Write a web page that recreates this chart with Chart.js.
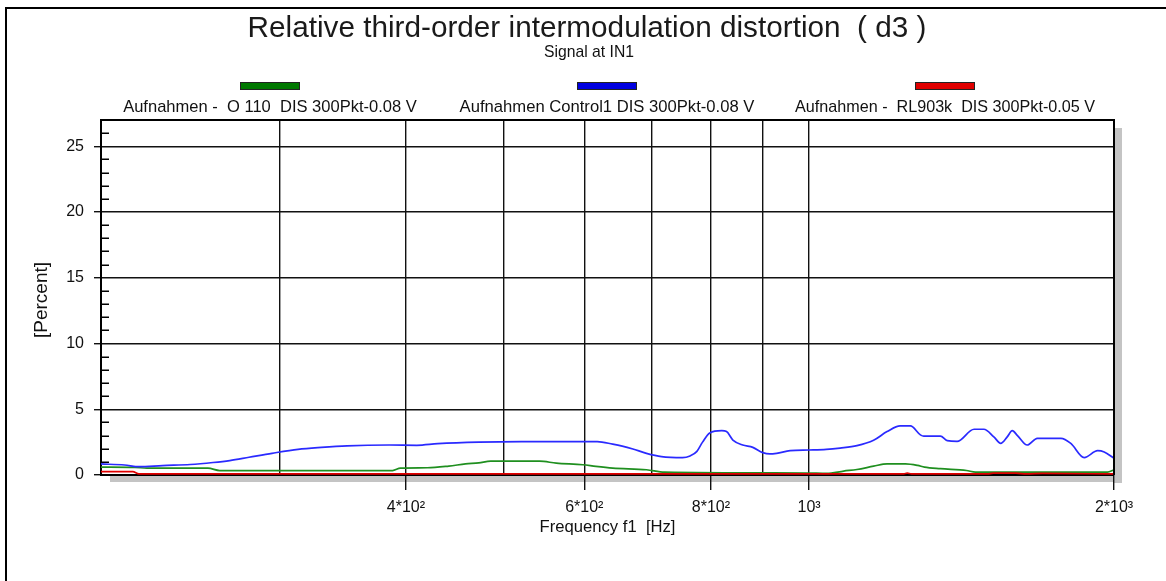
<!DOCTYPE html>
<html>
<head>
<meta charset="utf-8">
<title>Relative third-order intermodulation distortion</title>
<script src="https://cdn.jsdelivr.net/npm/chart.js@4.4.0/dist/chart.umd.min.js"></script>
<style>
  html, body { margin: 0; padding: 0; background: #fff; }
  canvas { display: block; }
</style>
</head>
<body>
<canvas id="chart" width="1166" height="581"></canvas>
<script>
const FONT = '"Liberation Sans", Arial, sans-serif';

const titleText = "Relative third-order intermodulation distortion  ( d3 )";
const subtitleText = "Signal at IN1";
const xAxisTitle = "Frequency f1  [Hz]";
const yAxisTitle = "[Percent]";

// series names / colours (legend order)
const seriesNames = [
  "Aufnahmen -  O 110  DIS 300Pkt-0.08 V",
  "Aufnahmen Control1 DIS 300Pkt-0.08 V",
  "Aufnahmen -  RL903k  DIS 300Pkt-0.05 V"
];
const lineColors = ["#1f8f1f", "#2a2aff", "#e00000"];
const legendColors = ["#007800", "#0000e0", "#e00000"];

// x axis: grid lines and labelled ticks
const xGridValues = [300, 400, 500, 600, 700, 800, 900, 1000, 2000];
const xLabelValues = [400, 600, 800, 1000, 2000];
const xLabelTexts = ["4*10²", "6*10²", "8*10²", "10³", "2*10³"];

// green: O 110
const greenHz = [200, 216, 222, 255, 262, 388, 395, 420, 441, 458, 472, 485, 542, 563, 598, 616, 640, 691, 720, 995, 1041, 1082, 1115, 1158, 1194, 1245, 1280, 1300, 1348, 1430, 1460, 1970, 2000];
const greenVal = [0.60, 0.58, 0.52, 0.52, 0.34, 0.34, 0.52, 0.55, 0.68, 0.84, 0.92, 1.05, 1.05, 0.90, 0.78, 0.65, 0.52, 0.40, 0.22, 0.15, 0.12, 0.30, 0.42, 0.67, 0.85, 0.85, 0.73, 0.60, 0.48, 0.34, 0.22, 0.22, 0.40];

// blue: Control1
const blueHz = [200, 211, 218, 230, 245, 258, 268, 280, 295, 313, 330, 350, 385, 410, 430, 472, 520, 570, 618, 640, 654, 670, 691, 715, 750, 763, 775, 785, 798, 820, 829, 841, 860, 880, 900, 915, 929, 958, 1000, 1040, 1073, 1115, 1158, 1194, 1230, 1259, 1288, 1298, 1348, 1369, 1400, 1455, 1488, 1522, 1546, 1569, 1587, 1606, 1642, 1680, 1773, 1813, 1869, 1927, 1956, 2000];
const blueVal = [0.84, 0.76, 0.63, 0.72, 0.80, 0.95, 1.10, 1.35, 1.65, 1.95, 2.10, 2.22, 2.28, 2.26, 2.38, 2.50, 2.54, 2.54, 2.54, 2.35, 2.20, 1.98, 1.65, 1.40, 1.32, 1.45, 1.80, 2.50, 3.20, 3.37, 3.30, 2.66, 2.28, 2.10, 1.70, 1.60, 1.65, 1.85, 1.90, 1.95, 2.05, 2.23, 2.64, 3.30, 3.73, 3.73, 3.05, 2.95, 2.95, 2.61, 2.55, 3.48, 3.48, 2.90, 2.41, 2.90, 3.37, 3.00, 2.28, 2.79, 2.79, 2.40, 1.32, 1.85, 1.75, 1.27];

// red: RL903k
const redHz = [200, 215, 218, 1240, 1250, 1262, 1500, 1520, 1600, 1640, 1700, 2000];
const redVal = [0.25, 0.25, 0.08, 0.08, 0.14, 0.08, 0.08, 0.14, 0.14, 0.08, 0.12, 0.08];

function toPoints(xs, ys) {
  return xs.map((x, i) => ({ x: x, y: ys[i] }));
}

function fitFont(ctx, text, width) {
  ctx.font = `100px ${FONT}`;
  const size = 100 * width / ctx.measureText(text).width;
  ctx.font = `${size.toFixed(2)}px ${FONT}`;
}

const framePlugin = {
  id: "frame",
  beforeDraw(chart) {
    const ctx = chart.ctx;
    const a = chart.chartArea;
    ctx.save();
    ctx.fillStyle = "#fff";
    ctx.fillRect(0, 0, chart.width, chart.height);
    // outer frame
    ctx.strokeStyle = "#000";
    ctx.lineWidth = 2;
    ctx.strokeRect(6, 8, 1300, 700);
    // drop shadow
    ctx.fillStyle = "#c4c4c4";
    ctx.fillRect(a.right, a.top + 8, 8, a.bottom - a.top);
    ctx.fillRect(a.left + 9, a.bottom, a.right - a.left - 1, 7);
    ctx.restore();
  },
  afterDraw(chart) {
    const ctx = chart.ctx;
    const a = chart.chartArea;
    const y = chart.scales.y;
    ctx.save();
    ctx.strokeStyle = "#000";
    ctx.lineWidth = 2;
    ctx.beginPath();
    ctx.moveTo(a.left, a.top);
    ctx.lineTo(a.right, a.top);
    ctx.lineTo(a.right, a.bottom);
    ctx.stroke();

    // minor ticks inside the left axis
    ctx.lineWidth = 1.5;
    ctx.beginPath();
    for (let v = 1; v <= 26; v++) {
      if (v % 5 === 0) continue;
      const py = Math.round(y.getPixelForValue(v)) + 0.25;
      ctx.moveTo(a.left, py);
      ctx.lineTo(a.left + 8, py);
    }
    ctx.stroke();

    ctx.fillStyle = "#1a1a1a";
    ctx.textAlign = "center";
    ctx.textBaseline = "alphabetic";
    fitFont(ctx, titleText, 679);
    ctx.fillText(titleText, 587, 37);
    ctx.fillStyle = "#111";
    fitFont(ctx, subtitleText, 90);
    ctx.fillText(subtitleText, 589, 57);

    // legend: coloured bar above each label
    const centers = [270, 607, 945];
    const widths = [294, 295, 300];
    seriesNames.forEach((name, i) => {
      ctx.fillStyle = legendColors[i];
      ctx.fillRect(centers[i] - 29, 83, 58, 6);
      ctx.strokeStyle = "#222";
      ctx.lineWidth = 1;
      ctx.strokeRect(centers[i] - 29.5, 82.5, 59, 7);
      ctx.fillStyle = "#111";
      fitFont(ctx, name, widths[i]);
      ctx.fillText(name, centers[i], 112);
    });

    fitFont(ctx, xAxisTitle, 136);
    ctx.fillText(xAxisTitle, (a.left + a.right) / 2, 532);

    ctx.translate(42, 300);
    ctx.rotate(-Math.PI / 2);
    ctx.textBaseline = "middle";
    fitFont(ctx, yAxisTitle, 76);
    ctx.fillText(yAxisTitle, 0, 0);
    ctx.restore();
  }
};

const line = (i, xs, ys, order) => ({
  label: seriesNames[i],
  data: toPoints(xs, ys),
  borderColor: lineColors[i],
  borderWidth: 1.7,
  pointRadius: 0,
  cubicInterpolationMode: "monotone",
  fill: false,
  order: order
});

new Chart(document.getElementById("chart"), {
  type: "line",
  data: {
    datasets: [
      line(0, greenHz, greenVal, 2),
      line(1, blueHz, blueVal, 1),
      line(2, redHz, redVal, 0)
    ]
  },
  options: {
    responsive: false,
    animation: false,
    devicePixelRatio: 1,
    layout: { padding: { left: 0, top: 120, right: 52, bottom: 0 } },
    plugins: { legend: { display: false }, title: { display: false }, tooltip: { enabled: false } },
    scales: {
      x: {
        type: "logarithmic",
        min: 200,
        max: 2000,
        afterBuildTicks: axis => { axis.ticks = xGridValues.map(v => ({ value: v })); },
        afterFit: scale => { scale.height = 106; },
        ticks: {
          autoSkip: false,
          maxRotation: 0,
          minRotation: 0,
          padding: 8,
          color: "#111",
          font: { family: FONT, size: 16 },
          callback: v => {
            const k = xLabelValues.indexOf(v);
            return k >= 0 ? xLabelTexts[k] : "";
          }
        },
        grid: {
          color: "#111",
          lineWidth: 1.4,
          tickLength: 15,
          tickColor: c => (c.tick && xLabelValues.includes(c.tick.value)) ? "#111" : "rgba(0,0,0,0)"
        },
        border: { color: "#000", width: 2 }
      },
      y: {
        min: 0,
        max: 27,
        afterFit: scale => { scale.width = 101; },
        ticks: {
          stepSize: 1,
          autoSkip: false,
          padding: 10,
          color: "#111",
          font: { family: FONT, size: 16 },
          callback: v => (v % 5 === 0 ? v : "")
        },
        grid: {
          color: c => (c.tick.value % 5 === 0 ? "#111" : "rgba(0,0,0,0)"),
          lineWidth: 1.4,
          tickLength: 7,
          tickColor: c => (c.tick.value % 5 === 0 ? "#111" : "rgba(0,0,0,0)")
        },
        border: { color: "#000", width: 2 }
      }
    }
  },
  plugins: [framePlugin]
});
</script>
</body>
</html>
